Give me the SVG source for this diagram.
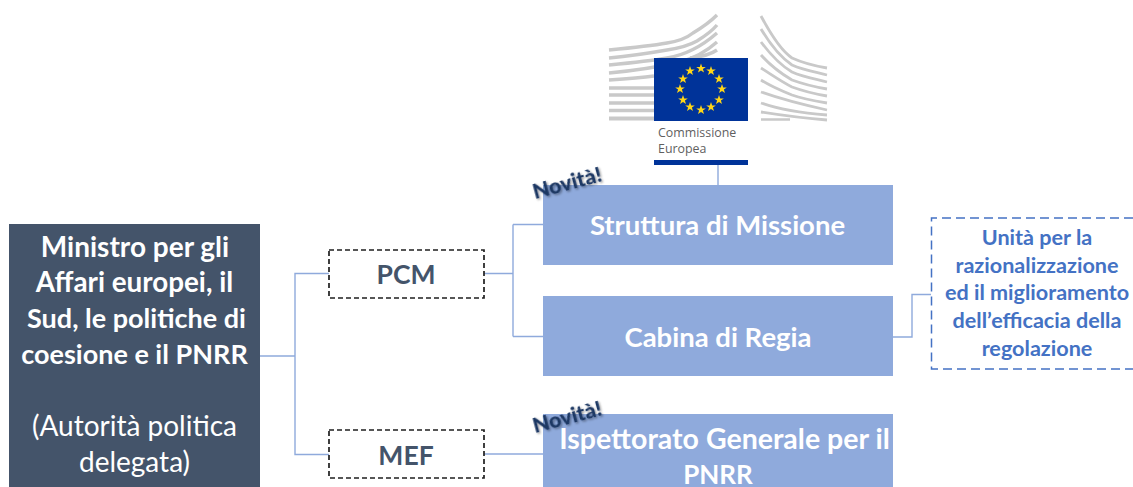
<svg xmlns="http://www.w3.org/2000/svg" width="1133" height="487" viewBox="0 0 1133 487">
<style>
text{font-family:Lato,Carlito,"Open Sans",sans-serif;text-anchor:middle}
.w{fill:#fff;font-weight:700;font-size:27px}
.b{fill:#fff;font-weight:700;font-size:27.500px}
.w2{fill:#fff;font-size:28px}
.blue{fill:#8faadc}
.dash{fill:#fff;stroke:#1f1f1f;stroke-width:1.7;stroke-dasharray:5 3}
.lab{fill:#44546a;font-weight:700;font-size:26.500px}
.conn{fill:none;stroke:#8faadc;stroke-width:1.4}
.nov{fill:#1f3864;font-weight:900;font-size:21.500px;filter:url(#sh)}
.u{fill:#4472c4;font-weight:700;font-size:21.600px}
.bl{fill:none;stroke:#c9c9c9;stroke-width:3.400}
.br{fill:none;stroke:#c9c9c9;stroke-width:2.800}
.st{fill:#ffd617}
.lg{text-anchor:start;font-family:"Open Sans",sans-serif;font-size:12.400px;fill:#5f5f5f}
</style>
<defs>
<filter id="sh" x="-20%" y="-20%" width="140%" height="150%"><feDropShadow dx="1" dy="1.500" stdDeviation="1" flood-color="#000" flood-opacity=".4"/></filter>
<polygon id="s" points="0,-5 1.200,-1.600 4.800,-1.500 1.900,.6 3,4 0,2 -3,4 -1.900,.6 -4.800,-1.500 -1.200,-1.600"/>
</defs>
<rect width="1133" height="487" fill="#fff"/>
<g id="connectors">
<path class="conn" d="M260 356H295M295 356V273.500H329M295 356V454.500H329"/>
<path class="conn" d="M484 273.500H513M513 224.500V336.500M513 224.500H543M513 336.500H543"/>
<path class="conn" d="M484 454H543"/>
<path class="conn" d="M718 165V185"/>
<path class="conn" d="M893 337H912V294.500H931"/>
</g>
<g id="logo">
<path class="bl" d="M609 50C630 48 650 46 667 43C680 41 688 37 693 33C703 27 711 21 717 15"/>
<path class="bl" d="M609 58C630 56 650 53 667 50C680 48 690 45 697 41C705 36 712 31 717 25"/>
<path class="bl" d="M609 65C630 63 650 61 667 58C685 55 700 48 717 33"/>
<path class="bl" d="M609 73C630 71 650 69 680 62C695 58 708 50 717 42"/>
<path class="bl" d="M609 80C625 79 640 78 654 76M690 58C700 57 710 55 717 50"/>
<path class="bl" d="M609 88H654M609 95H654M609 103H654M609 110.500H654"/>
<path d="M609 118.500H654" stroke="#c9c9c9" stroke-width="4" fill="none"/>
<path class="br" d="M761 16C770 33 780 50 792 58C803 63 815 66 827 68"/>
<path class="br" d="M761 29C770 44 780 57 792 65C803 70 815 72 827 75"/>
<path class="br" d="M761 42C770 54 780 65 792 72C803 77 815 79 827 82"/>
<path class="br" d="M761 55C770 65 780 73 792 80C803 84 815 87 827 89"/>
<path class="br" d="M761 68C772 75 782 82 792 87C803 91 815 94 827 96"/>
<path class="br" d="M761 80C772 87 782 91 792 95C803 99 815 101 827 103"/>
<path class="br" d="M761 92C775 97 790 102 827 110"/>
<path class="br" d="M761 103C775 108 800 113 827 115"/>
<path class="br" d="M761 112C780 115 800 118 827 120"/>
<path d="M761 119.500H790" stroke="#c9c9c9" stroke-width="2.500" fill="none"/>
<rect x="654" y="58" width="94" height="63" fill="#003399"/>
<rect x="654" y="121" width="94" height="39" fill="#fff"/>
<rect x="654" y="160" width="94" height="5" fill="#003399"/>
<g class="st">
<use href="#s" x="701" y="68.500"/><use href="#s" x="711" y="71"/><use href="#s" x="719" y="79"/><use href="#s" x="722" y="89"/><use href="#s" x="719" y="100"/><use href="#s" x="711" y="107"/><use href="#s" x="701" y="110"/><use href="#s" x="690" y="107"/><use href="#s" x="683" y="100"/><use href="#s" x="680" y="89"/><use href="#s" x="683" y="79"/><use href="#s" x="690" y="71"/>
</g>
<text class="lg" x="658" y="137">Commissione</text>
<text class="lg" x="658" y="153">Europea</text>
</g>
<g id="ministro">
<rect x="9" y="224" width="251" height="263" fill="#44546a"/>
<text class="w" x="135" y="257" style="font-size:28px">Ministro per gli</text>
<text class="w" x="134.500" y="292" style="font-size:27.800px">Affari europei, il</text>
<text class="w" x="136.500" y="328">Sud, le politiche di</text>
<text class="w" x="134.500" y="364">coesione e il PNRR</text>
<text class="w2" x="134.500" y="436">(Autorità politica</text>
<text class="w2" x="134.500" y="472">delegata)</text>
</g>
<g id="pcm">
<rect class="dash" x="329" y="250" width="155" height="48"/>
<text class="lab" x="406" y="284">PCM</text>
</g>
<g id="mef">
<rect class="dash" x="329" y="430" width="155" height="48"/>
<text class="lab" x="406" y="465">MEF</text>
</g>
<g id="struttura">
<rect class="blue" x="543" y="185" width="350" height="80"/>
<text class="b" x="717.500" y="235">Struttura di Missione</text>
<text class="nov" x="569" y="190" transform="rotate(-15 569 190)">Novità!</text>
</g>
<g id="cabina">
<rect class="blue" x="543" y="296" width="350" height="80"/>
<text class="b" x="718" y="347">Cabina di Regia</text>
</g>
<g id="ispettorato">
<rect class="blue" x="543" y="414" width="350" height="73"/>
<text class="b" x="724.500" y="449" style="font-size:28.500px">Ispettorato Generale per il</text>
<text class="b" x="718" y="484" style="font-size:26px">PNRR</text>
<text class="nov" x="569" y="424" transform="rotate(-15 569 424)">Novità!</text>
</g>
<g id="unita">
<path d="M1133 218H931.500V369H1133" fill="none" stroke="#4472c4" stroke-width="1.500" stroke-dasharray="9 5"/>
<text class="u" x="1037" y="245">Unità per la</text>
<text class="u" x="1037" y="273">razionalizzazione</text>
<text class="u" x="1037" y="300">ed il miglioramento</text>
<text class="u" x="1037" y="328">dell’efficacia della</text>
<text class="u" x="1037" y="356">regolazione</text>
</g>
</svg>
